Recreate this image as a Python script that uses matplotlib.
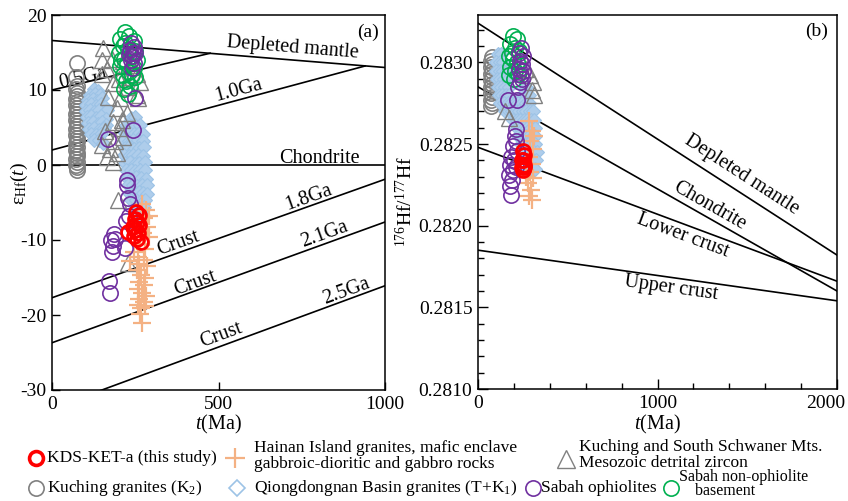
import matplotlib
matplotlib.use("Agg")
import matplotlib.pyplot as plt
import numpy as np
from matplotlib.ticker import MultipleLocator, FormatStrFormatter
from matplotlib.transforms import ScaledTranslation

plt.rcParams.update({
    "font.family": "Liberation Serif",
    "mathtext.fontset": "custom",
    "mathtext.rm": "Liberation Serif",
    "mathtext.it": "Liberation Serif:italic",
    "axes.unicode_minus": False,
})

# ---------------- reference evolution lines ----------------
# panel (a): epsilon Hf(t) vs t (Ma)
dm_a = ([0, 1000], [16.6, 13.0])
ga05_a = ([0, 475], [10.0, 14.9])
ga10_a = ([0, 940], [2.0, 13.2])
chur_a = ([0, 1000], [0.0, 0.0])
ga18_a = ([0, 1000], [-17.7, -1.9])
ga21_a = ([0, 1000], [-23.7, -7.6])
ga25_a = ([0, 1000], [-32.45, -16.1])
# panel (b): 176Hf/177Hf vs t (Ma)
dm_b = ([0, 2000], [0.28324, 0.28182])
chur_b = ([0, 2000], [0.28285, 0.28160])
lc_b = ([0, 2000], [0.28248, 0.28166])
uc_b = ([0, 2000], [0.28185, 0.28154])

# ---------------- zircon data, panel (a): (t Ma, eHf(t)) ----------------
kuching_gr_a = [(74, 13.6), (72, 11.8), (75, 10.6), (73, 10.1), (76, 9.6), (74, 9.2), (72, 8.8),
                (75, 8.4), (73, 8.0), (76, 7.6), (74, 7.2), (72, 6.8), (75, 6.4), (73, 6.0),
                (76, 5.6), (74, 5.2), (72, 4.8), (75, 4.4), (73, 4.0), (76, 3.6), (74, 3.2),
                (72, 2.8), (75, 2.4), (73, 2.0), (76, 1.6), (74, 1.2), (72, 0.8), (75, 0.4),
                (73, 0.0), (74, -0.3), (75, -0.6)]
qdn_a = [(125, 10.1), (138, 9.9), (115, 9.4), (130, 9.5), (145, 9.3), (108, 8.7), (122, 8.8),
         (136, 8.6), (150, 8.9), (103, 8.0), (117, 8.1), (131, 7.9), (146, 8.1), (160, 7.8),
         (101, 7.2), (113, 7.3), (127, 7.1), (141, 7.4), (155, 7.0), (165, 7.3), (104, 6.4),
         (118, 6.5), (133, 6.3), (148, 6.6), (161, 6.2), (108, 5.6), (122, 5.7), (137, 5.5),
         (151, 5.8), (163, 5.4), (112, 4.8), (126, 4.9), (141, 4.7), (155, 5.0), (118, 4.1),
         (132, 4.0), (147, 4.2), (125, 3.3), (140, 3.4), (152, 3.0),
         (236, 6.3), (250, 6.4),
         (222, 5.3), (236, 5.2), (250, 5.4), (264, 5.3),
         (218, 4.3), (232, 4.4), (246, 4.2), (260, 4.3), (274, 4.1),
         (216, 3.3), (230, 3.2), (244, 3.4), (258, 3.3), (272, 3.2),
         (218, 2.3), (232, 2.4), (246, 2.2), (260, 2.3), (276, 2.4),
         (216, 1.3), (230, 1.2), (244, 1.4), (258, 1.3), (272, 1.2),
         (220, 0.3), (234, 0.4), (248, 0.2), (262, 0.3), (278, 0.4),
         (222, -0.7), (236, -0.6), (250, -0.8), (264, -0.7), (280, -0.6),
         (224, -1.7), (238, -1.8), (252, -1.6), (266, -1.7), (282, -1.8),
         (228, -2.7), (242, -2.6), (256, -2.8), (270, -2.7), (284, -2.6),
         (232, -3.7), (246, -3.8), (260, -3.6), (274, -3.7), (284, -3.8),
         (238, -4.7), (252, -4.6), (266, -4.8), (280, -4.7),
         (248, -5.7), (262, -5.8), (276, -5.6),
         (258, -6.7), (272, -6.6)]
detrital_a = [(154, 15.6), (179, 14.2), (239, 13.3), (254, 12.2), (149, 12.2), (184, 10.9),
              (169, 9.1), (204, 8.9), (259, 8.9), (194, 7.6), (224, 6.9), (184, 5.8),
              (204, 4.9), (149, 2.7), (174, 2.2), (194, 1.6), (164, 1.1), (184, 0.4),
              (214, 3.8), (224, 10.4), (264, 11.1), (150, 14.0), (255, 9.3), (198, -4.7),
              (228, -13.0), (214, 13.9), (230, 11.8), (166, 12.8), (200, 11.5), (190, 3.2),
              (210, 6.0), (160, 4.5)]
hainan_a = [(270, -5.2), (282, -6.0), (276, -7.0), (285, -8.2), (272, -9.0), (290, -9.6),
            (265, -10.5), (280, -11.2), (258, -12.2), (275, -12.6), (262, -13.2), (285, -13.5),
            (255, -14.0), (268, -14.6), (280, -15.0), (262, -15.6), (275, -16.0), (258, -16.5),
            (270, -17.0), (282, -17.4), (262, -17.8), (275, -18.2), (258, -18.6), (268, -19.0),
            (280, -18.8), (265, -19.8), (270, -21.0), (245, -11.6), (235, -12.8), (290, -6.8)]
sabah_nonoph_a = [(218, 17.8), (232, 17.2), (205, 16.8), (245, 16.5), (212, 15.9), (228, 15.5),
                  (250, 15.2), (200, 15.0), (238, 14.6), (215, 14.2), (255, 14.0), (225, 13.5),
                  (205, 13.2), (245, 13.0), (232, 12.4), (212, 12.0), (250, 11.7), (222, 11.2),
                  (235, 10.6), (215, 10.2), (228, 9.5), (240, 12.0), (220, 16.3), (208, 14.0)]
sabah_oph_a = [(238, 16.3), (245, 15.8), (235, 15.3), (248, 14.9), (240, 14.5), (236, 14.0),
               (246, 13.6), (240, 13.0), (244, 15.0), (232, 14.8),
               (250, 9.0), (244, 4.7), (168, 3.5), (224, -2.0), (226, -2.6), (229, -4.4),
               (233, -5.2), (222, -7.4), (230, -6.8), (185, -9.2), (178, -10.0), (184, -10.8),
               (180, -11.6), (188, -9.8), (220, -11.0), (172, -15.4), (175, -17.0)]
kds_a = [(252, -6.2), (260, -6.6), (248, -7.2), (256, -7.6), (262, -8.0), (250, -8.6),
         (258, -9.0), (246, -9.4), (266, -10.3), (254, -9.8), (244, -8.2), (229, -8.9)]

# ---------------- zircon data, panel (b): (t Ma, 176Hf/177Hf) ----------------
kuching_gr_b = [(76, 0.28303), (74, 0.28301), (78, 0.28299), (75, 0.28297), (77, 0.28295),
                (74, 0.28293), (78, 0.28291), (75, 0.28289), (77, 0.28287), (74, 0.28285),
                (78, 0.28283), (75, 0.28281), (77, 0.28279), (74, 0.28277), (76, 0.28275),
                (75, 0.28273)]
qdn_b = [(110, 0.28305), (130, 0.28305),
         (100, 0.28300), (120, 0.28300), (140, 0.28300),
         (100, 0.28295), (120, 0.28295), (140, 0.28295), (160, 0.28295),
         (105, 0.28290), (125, 0.28290), (145, 0.28290), (165, 0.28290),
         (110, 0.28285), (130, 0.28285), (150, 0.28285), (170, 0.28285), (250, 0.28285), (270, 0.28285),
         (115, 0.28280), (135, 0.28280), (155, 0.28280), (175, 0.28280), (245, 0.28280), (265, 0.28280),
         (285, 0.28280),
         (125, 0.28275), (145, 0.28275), (165, 0.28275), (185, 0.28275), (205, 0.28275), (225, 0.28275),
         (245, 0.28275), (265, 0.28275), (285, 0.28275),
         (150, 0.28270), (170, 0.28270), (190, 0.28270), (210, 0.28270), (230, 0.28270), (250, 0.28270),
         (270, 0.28270), (290, 0.28270), (305, 0.28270),
         (195, 0.28265), (215, 0.28265), (235, 0.28265), (255, 0.28265), (275, 0.28265), (295, 0.28265),
         (310, 0.28265),
         (215, 0.28260), (235, 0.28260), (255, 0.28260), (275, 0.28260), (295, 0.28260), (315, 0.28260),
         (225, 0.28255), (245, 0.28255), (265, 0.28255), (285, 0.28255), (305, 0.28255), (320, 0.28255),
         (240, 0.28250), (260, 0.28250), (280, 0.28250), (300, 0.28250), (320, 0.28250),
         (250, 0.28245), (270, 0.28245), (290, 0.28245), (310, 0.28245), (330, 0.28245),
         (265, 0.28240), (285, 0.28240), (305, 0.28240), (325, 0.28240),
         (280, 0.28235), (300, 0.28235), (320, 0.28235)]
detrital_b = [(290, 0.28292), (305, 0.28288), (300, 0.28283), (265, 0.28296), (150, 0.28270),
              (170, 0.28266), (310, 0.28280)]
hainan_b = [(285, 0.28264), (300, 0.28258), (290, 0.28252), (305, 0.28247), (285, 0.28242),
            (300, 0.28238), (290, 0.28233), (305, 0.28229), (280, 0.28226), (295, 0.28222),
            (285, 0.28218), (300, 0.28216), (270, 0.28230), (310, 0.28255)]
sabah_nonoph_b = [(195, 0.28316), (215, 0.28314), (180, 0.28311), (205, 0.28309), (230, 0.28307),
                  (170, 0.28304), (195, 0.28302), (220, 0.28300), (180, 0.28297), (205, 0.28295),
                  (175, 0.28292), (200, 0.28290), (225, 0.28293), (190, 0.28306)]
sabah_oph_b = [(240, 0.28309), (230, 0.28306), (250, 0.28304), (235, 0.28301), (245, 0.28299),
               (228, 0.28296), (250, 0.28295), (238, 0.28292), (232, 0.28288), (245, 0.28290),
               (222, 0.28285), (167, 0.28277), (218, 0.28277),
               (212, 0.28259), (205, 0.28255), (210, 0.28252), (195, 0.28249), (215, 0.28246),
               (185, 0.28242), (200, 0.28240), (180, 0.28237), (195, 0.28234), (210, 0.28236),
               (175, 0.28231), (190, 0.28228), (178, 0.28224), (185, 0.28219)]
kds_b = [(250, 0.28246), (258, 0.28243), (245, 0.28240), (255, 0.28237), (248, 0.28234),
         (258, 0.28236), (250, 0.28240), (243, 0.28236)]

# ---------------- styles ----------------
C_RED, C_ORANGE, C_GRAY = "#ff0000", "#f4b183", "#808080"
C_BLUE, C_PURPLE, C_GREEN = "#9dc3e6", "#7030a0", "#00b050"

styles = {
    "kuching": dict(marker="o", ms=11, mfc="none", mec=C_GRAY, mew=1.2, zorder=3),
    "qdn": dict(marker="D", ms=7, mfc="#aecdeb", mec=C_BLUE, mew=0.8, zorder=3.2),
    "detrital": dict(marker="^", ms=12, mfc="none", mec=C_GRAY, mew=1.0, zorder=3.4),
    "hainan": dict(marker="+", ms=13, mec=C_ORANGE, mew=1.6, zorder=3.6),
    "nonoph": dict(marker="o", ms=11, mfc="none", mec=C_GREEN, mew=1.2, zorder=4),
    "oph": dict(marker="o", ms=11, mfc="none", mec=C_PURPLE, mew=1.2, zorder=4.5),
    "kds": dict(marker="o", ms=10, mfc="none", mec=C_RED, mew=2.0, zorder=5),
}


def scatter(ax, pts, key):
    t, v = zip(*pts)
    ax.plot(t, v, ls="none", **styles[key])


def ref_line(ax, line):
    ax.plot(line[0], line[1], color="black", lw=1.2, zorder=2)


def line_label(ax, txt, x, y, line=None, size=14.5):
    ang = 0.0
    if line is not None:
        (x0, x1), (y0, y1) = line
        ang = np.degrees(np.arctan2(y1 - y0, x1 - x0))
    ax.text(x, y, txt, rotation=ang, transform_rotates_text=True, rotation_mode="anchor",
            ha="center", va="center", fontsize=size, zorder=1.5)


fig = plt.figure(figsize=(8.48, 5.01), dpi=100)
W, H = 848, 501
ax_a = fig.add_axes([52 / W, 1 - 390 / H, 333 / W, 375 / H])
ax_b = fig.add_axes([478 / W, 1 - 389 / H, 359 / W, 374 / H])

# ---------------- panel (a) ----------------
for ln in (dm_a, ga05_a, ga10_a, chur_a, ga18_a, ga21_a, ga25_a):
    ref_line(ax_a, ln)
scatter(ax_a, kuching_gr_a, "kuching")
scatter(ax_a, qdn_a, "qdn")
scatter(ax_a, detrital_a, "detrital")
scatter(ax_a, hainan_a, "hainan")
scatter(ax_a, sabah_nonoph_a, "nonoph")
scatter(ax_a, sabah_oph_a, "oph")
scatter(ax_a, kds_a, "kds")

line_label(ax_a, "Depleted mantle", 722, 15.6, dm_a)
line_label(ax_a, "0.5Ga", 92, 11.6, ga05_a)
line_label(ax_a, "1.0Ga", 560, 9.9, ga10_a)
line_label(ax_a, "Chondrite", 802, 0.9)
line_label(ax_a, "1.8Ga", 772, -4.3, ga18_a)
line_label(ax_a, "Crust", 380, -10.4, ga18_a)
line_label(ax_a, "2.1Ga", 817, -9.3, ga21_a)
line_label(ax_a, "Crust", 430, -15.8, ga21_a)
line_label(ax_a, "2.5Ga", 885, -16.9, ga25_a)
line_label(ax_a, "Crust", 508, -22.7, ga25_a)
ax_a.text(0.949, 0.955, "(a)", transform=ax_a.transAxes, ha="center", va="center", fontsize=14)

ax_a.set_xlim(0, 1000)
ax_a.set_ylim(-30, 20)
ax_a.set_xticks([0, 500, 1000])
ax_a.set_yticks([-30, -20, -10, 0, 10, 20])
ax_a.set_xlabel(r"$\mathit{t}$(Ma)", fontsize=14.5)
ax_a.set_ylabel(r"ε$_{\mathrm{Hf}}$($\mathit{t}$)", fontsize=14)
ax_a.xaxis.set_label_coords(0.5, -0.062)
ax_a.yaxis.set_label_coords(-0.066, 0.55)
ax_a.tick_params(direction="in", length=6, width=1, labelsize=14, pad=4,
                 top=False, right=False)

# ---------------- panel (b) ----------------
for ln in (dm_b, chur_b, lc_b, uc_b):
    ref_line(ax_b, ln)
scatter(ax_b, kuching_gr_b, "kuching")
scatter(ax_b, qdn_b, "qdn")
scatter(ax_b, detrital_b, "detrital")
scatter(ax_b, hainan_b, "hainan")
scatter(ax_b, sabah_nonoph_b, "nonoph")
scatter(ax_b, sabah_oph_b, "oph")
scatter(ax_b, kds_b, "kds")

line_label(ax_b, "Depleted mantle", 1468, 0.28231, dm_b)
line_label(ax_b, "Chondrite", 1287, 0.28212, chur_b)
line_label(ax_b, "Lower crust", 1140, 0.28194, lc_b)
line_label(ax_b, "Upper crust", 1078, 0.28162, uc_b)
ax_b.text(0.944, 0.955, "(b)", transform=ax_b.transAxes, ha="center", va="center", fontsize=14)

ax_b.set_xlim(0, 2000)
ax_b.set_ylim(0.2810, 0.28329)
ax_b.set_xticks([0, 1000, 2000])
ax_b.xaxis.set_minor_locator(MultipleLocator(200))
ax_b.yaxis.set_major_locator(MultipleLocator(0.0005))
ax_b.yaxis.set_minor_locator(MultipleLocator(0.0001))
ax_b.yaxis.set_major_formatter(FormatStrFormatter("%.4f"))
ax_b.set_xlabel(r"$\mathit{t}$(Ma)", fontsize=14.5)
ax_b.set_ylabel(r"$^{176}$Hf/$^{177}$Hf", fontsize=14)
ax_b.xaxis.set_label_coords(0.5, -0.064)
ax_b.yaxis.set_label_coords(-0.172, 0.5)
ax_b.tick_params(which="major", direction="in", length=7, width=1, labelsize=14, pad=4,
                 top=False, right=False)
ax_b.tick_params(which="minor", direction="in", length=4, width=1, top=False, right=False)
# keep the last x tick label inside the figure
last_tick = ax_b.xaxis.get_major_ticks()[-1]
last_tick.label1.set_transform(last_tick.label1.get_transform()
                               + ScaledTranslation(-8 / 72, 0, fig.dpi_scale_trans))

for ax in (ax_a, ax_b):
    for sp in ax.spines.values():
        sp.set_linewidth(1.1)

# ---------------- legend (pixel coordinates) ----------------
lg = fig.add_axes([0, 0, 1, 1])
lg.set_xlim(0, W)
lg.set_ylim(H, 0)
lg.axis("off")
lg.patch.set_visible(False)

LFS = 12.5
legend_items = [
    ("kds", 36, 458, 47, "KDS-KET-a (this study)"),
    ("hainan", 235, 458, 254, "Hainan Island granites, mafic enclave\ngabbroic-dioritic and gabbro rocks"),
    ("detrital", 566, 459, 579, "Kuching and South Schwaner Mts.\nMesozoic detrital zircon"),
    ("kuching", 36, 488, 47, r"Kuching granites (K$_2$)"),
    ("qdn", 237, 488, 254, r"Qiongdongnan Basin granites (T+K$_1$)"),
    ("oph", 533, 488, 541, "Sabah ophiolites"),
    ("nonoph", 671, 488, 679, "Sabah non-ophiolite\n    basement"),
]
text_y = {"kds": 458, "hainan": 456, "detrital": 455, "kuching": 488, "qdn": 488, "oph": 488,
          "nonoph": 484}
text_size = {"nonoph": 11.5}
text_spacing = {"nonoph": 0.88}
leg_marker_size = {"kds": 10, "hainan": 14, "detrital": 13, "kuching": 11, "qdn": 8,
                   "oph": 11, "nonoph": 11}
for key, mx, my, tx, label in legend_items:
    st = dict(styles[key])
    st["ms"] = leg_marker_size[key]
    if key == "kds":
        st["mew"] = 2.6
    if key == "qdn":
        st["mfc"] = "none"
        st["mew"] = 1.2
    lg.plot([mx], [my], ls="none", clip_on=False, **st)
    lg.text(tx, text_y[key], label, ha="left", va="center", multialignment="left",
            fontsize=text_size.get(key, LFS), linespacing=text_spacing.get(key, 1.0))

fig.savefig("out.png", dpi=100, facecolor="white")
